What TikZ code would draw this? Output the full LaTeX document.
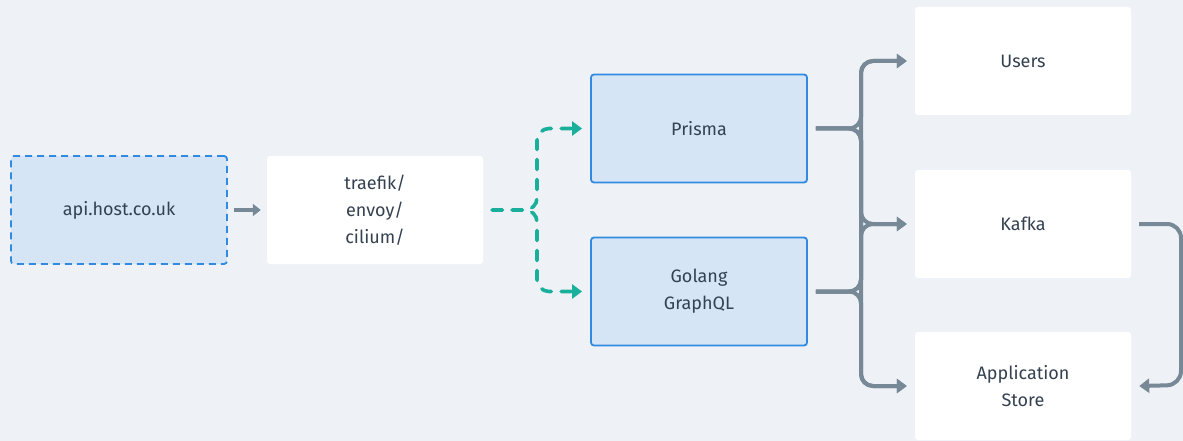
\documentclass[tikz,border=0pt]{standalone}
\usepackage{fontspec}
\setmainfont{Fira Sans}
\usetikzlibrary{arrows.meta}
\definecolor{fondo}{HTML}{EEF2F6}
\definecolor{azulclaro}{HTML}{D5E5F5}
\definecolor{azul}{HTML}{2F8AE0}
\definecolor{verde}{HTML}{1AAF9A}
\definecolor{gris}{HTML}{778897}
\definecolor{texto}{HTML}{344150}
\tikzset{
	caja/.style={rounded corners=3pt,minimum width=216pt,minimum height=108pt,
		align=center,text=texto,font=\fontsize{18}{27}\selectfont},
	blanca/.style={caja,fill=white},
	azulada/.style={caja,fill=azulclaro,draw=azul,line width=1.8pt},
	flecha/.style={draw=gris,line width=4pt,rounded corners=12pt,
		-{Triangle[length=10pt,width=14pt]}},
	punteada/.style={draw=verde,line width=3.6pt,rounded corners=12pt,line cap=round,
		dash pattern=on 10pt off 10pt,-{Triangle[length=10pt,width=14pt]}}
}
\begin{document}
\begin{tikzpicture}[x=1pt,y=-1pt]
	\useasboundingbox[fill=fondo] (0,0) rectangle (1183,441);
	% cajas
	\node[azulada,dashed,dash pattern=on 7pt off 5pt] (api) at (119,210) {api.host.co.uk};
	\node[blanca] (proxy) at (375,210) {traefik/\\envoy/\\cilium/};
	\node[azulada] (prisma) at (699,128.5) {Prisma};
	\node[azulada] (golang) at (699,291.5) {Golang\\GraphQL};
	\foreach \Nombre/\Yc/\Texto in
	{users/61/Users,kafka/224/Kafka,store/386/Application\\Store}
	{
		\node[blanca] (\Nombre) at (1023,\Yc) {\Texto};
	}
	% conexiones
	\draw[flecha,-{Triangle[length=8pt,width=12pt]}] ([xshift=6pt]api.east) -- ([xshift=-6pt]proxy.west);
	\foreach \Destino in {prisma,golang}
	{
		\draw[punteada] ([xshift=9pt]proxy.east) -- (537,210) |- ([xshift=-8pt]\Destino.west);
	}
	\foreach \Origen in {prisma,golang}
	{
		\foreach \Destino in {users,kafka,store}
		{
			\draw[flecha] ([xshift=8pt]\Origen.east) -- (861,0 |- \Origen.east) |- ([xshift=-8pt]\Destino.west);
		}
	}
	\draw[flecha,rounded corners=14pt] ([xshift=8pt]kafka.east) -- (1181,224) -- (1181,385) -- ([xshift=8pt]store.east);
\end{tikzpicture}
\end{document}
